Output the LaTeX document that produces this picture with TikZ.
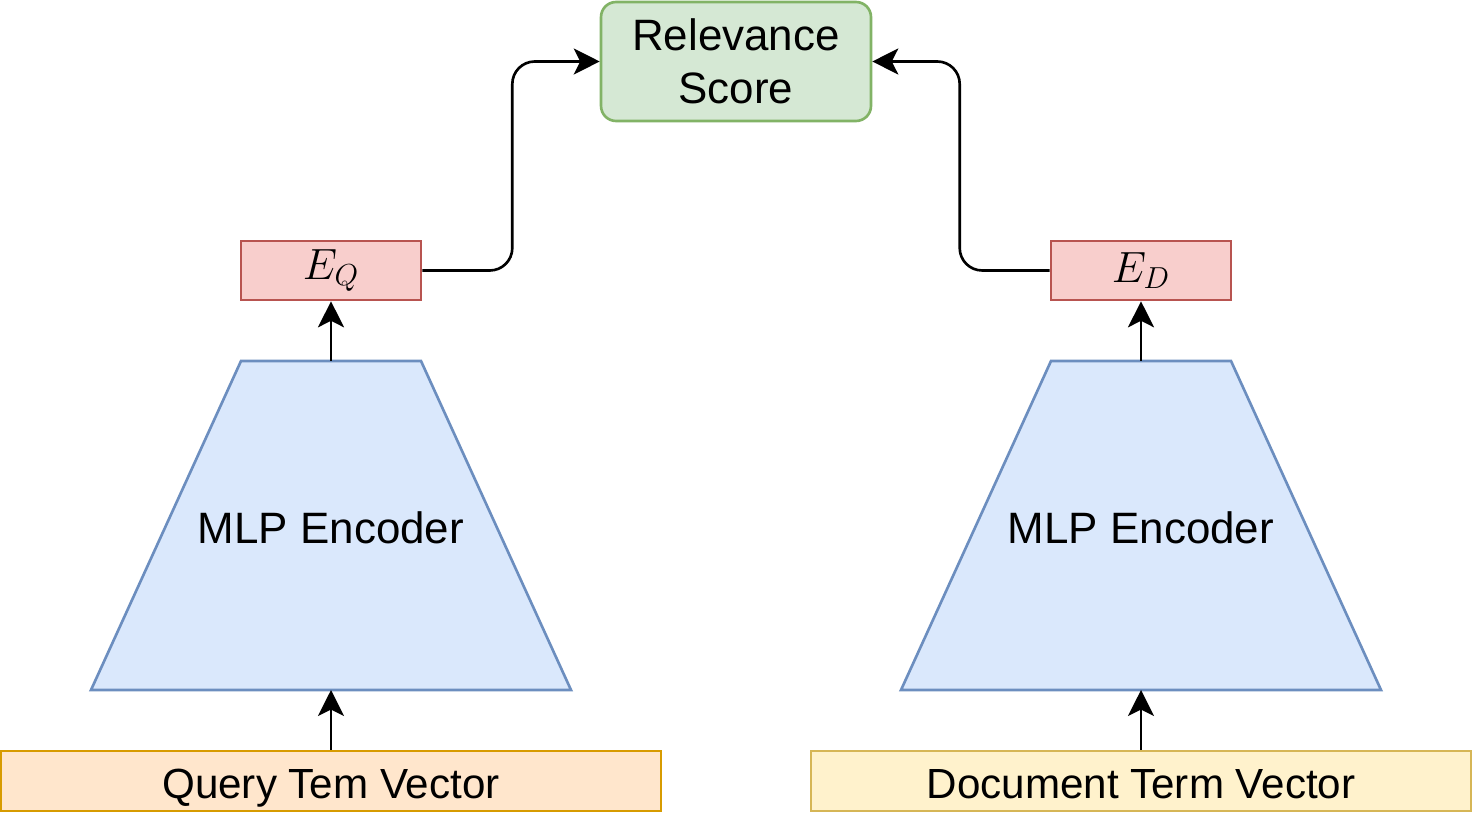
\documentclass[tikz,border=0pt]{standalone}
\usepackage{fontspec}
\setmainfont{Liberation Sans}
\usetikzlibrary{arrows.meta}
\definecolor{scorefill}{HTML}{D5E8D4}
\definecolor{scoreline}{HTML}{82B366}
\definecolor{embfill}{HTML}{F8CECC}
\definecolor{embline}{HTML}{B85450}
\definecolor{encfill}{HTML}{DAE8FC}
\definecolor{encline}{HTML}{6C8EBF}
\definecolor{queryfill}{HTML}{FFE6CC}
\definecolor{queryline}{HTML}{D79B00}
\definecolor{docfill}{HTML}{FFF2CC}
\definecolor{docline}{HTML}{D6B656}

\begin{document}
\begin{tikzpicture}[x=0.02cm, y=-0.02cm,
    every node/.style={font=\fontsize{25}{30}\selectfont, inner sep=0pt},
    embbox/.style={draw=embline, fill=embfill, line width=1.5pt,
        minimum width=3.6cm, minimum height=1.18cm},
    encoder/.style={draw=encline, fill=encfill, line width=1.5pt},
    vecbox/.style={line width=1.5pt, minimum width=13.2cm, minimum height=1.2cm,
        font=\fontsize{24}{29}\selectfont, text height=0.76cm, text depth=0.04cm},
    arr/.style={-{Stealth[length=0.52cm, width=0.52cm, inset=0.13cm]}, line width=1.5pt, rounded corners=0.45cm}]

            % Hintergrund
            \useasboundingbox[fill=white] (0,0) rectangle (1473,813);

            % Score
            \node[draw=scoreline, fill=scorefill, line width=1.5pt, rounded corners=0.3cm,
                minimum width=5.4cm, minimum height=2.38cm, align=center]
                (score) at (736,61.5) {Relevance\\Score};

            % Embeddings
            \node[embbox] (eq) at (331,270.5) {$E_Q$};
            \node[embbox] (ed) at (1141,270.5) {$E_D$};

            % Encoder (Trapeze)
            \foreach \cx/\nm in {331/q, 1141/d} {
                \draw[encoder] (\cx-240,690) -- (\cx-90,361) -- (\cx+90,361) -- (\cx+240,690) -- cycle;
                \coordinate (enc\nm top) at (\cx,361);
                \coordinate (enc\nm bot) at (\cx,690);
            }
            \node (encq) at (331,528) {MLP Encoder};
            \node (encd) at (1141,528) {MLP Encoder};

            % Eingaben
            \node[vecbox, draw=queryline, fill=queryfill] (vecq) at (331,781) {Query Tem Vector};
            \node[vecbox, draw=docline, fill=docfill] (vecd) at (1141,781) {Document Term Vector};

            % Pfeile
            \draw[arr] (vecq.north) -- (encqbot);
            \draw[arr] (vecd.north) -- (encdbot);
            \draw[arr] (encqtop) -- (eq.south);
            \draw[arr] (encdtop) -- (ed.south);
            \draw[arr] (eq.east) -- ++(90,0) |- (score.west);
            \draw[arr] (ed.west) -- ++(-90,0) |- (score.east);
        \end{tikzpicture}
\end{document}
